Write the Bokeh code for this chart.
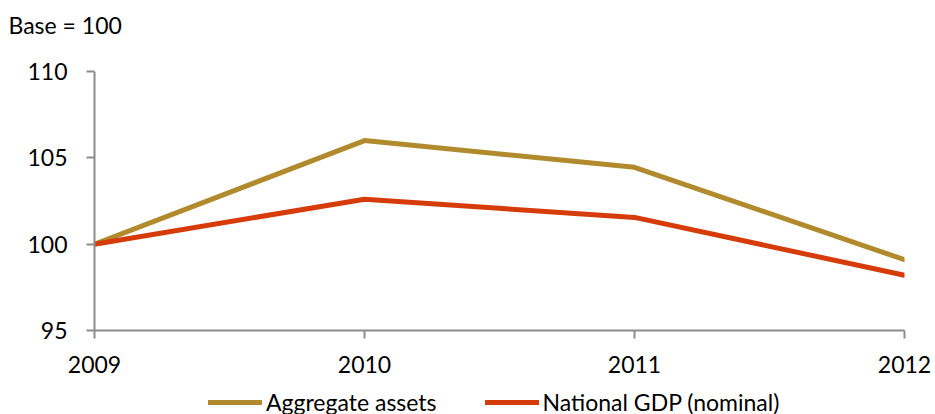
from bokeh.plotting import figure
from bokeh.models import Legend, LegendItem, FixedTicker, Range1d
from bokeh.layouts import column
from bokeh.embed import file_html
from bokeh.resources import INLINE

years = [2009, 2010, 2011, 2012]
aggregate_assets = [100.0, 106.0, 104.45, 99.1]
national_gdp = [100.0, 102.6, 101.55, 98.2]
y_ticks = [95, 100, 105, 110]
series_names = ["Aggregate assets", "National GDP (nominal)"]
series_values = [aggregate_assets, national_gdp]
series_colors = ["#B08A2C", "#D63B0A"]

FONT = "Lato"
FS = "23px"

p = figure(width=935, height=380, output_backend="svg", toolbar_location=None,
           x_range=Range1d(2009, 2012), y_range=Range1d(95, 110),
           min_border_left=94, min_border_right=31, min_border_top=71, min_border_bottom=50)
p.outline_line_color = None
p.xgrid.visible = False
p.ygrid.visible = False

p.title.text = "Base = 100"
p.title.text_font = FONT
p.title.text_font_size = FS
p.title.text_font_style = "normal"
p.title.text_color = "black"
p.title.align = "left"
p.title.offset = -86
p.title.standoff = 0
p.title.padding = (0, 0, 0, 33)

for vals, color in zip(series_values, series_colors):
    p.line(years, vals, line_color=color, line_width=5, line_cap="round", line_join="round")

for ax in (p.xaxis[0], p.yaxis[0]):
    ax.axis_line_color = "#8c8c8c"
    ax.axis_line_width = 2
    ax.major_tick_line_color = "#8c8c8c"
    ax.major_tick_line_width = 2
    ax.major_tick_out = 8
    ax.major_tick_in = 0
    ax.minor_tick_line_color = None
    ax.major_label_text_font = FONT
    ax.major_label_text_font_size = FS
    ax.major_label_text_color = "black"

p.xaxis.ticker = FixedTicker(ticks=years)
p.yaxis.ticker = FixedTicker(ticks=y_ticks)
p.xaxis.major_label_standoff = 17
p.yaxis.major_label_standoff = 19

# legend strip below the chart (its lines lie outside this strip's ranges, so only the legend shows)
p2 = figure(width=935, height=34, output_backend="svg", toolbar_location=None,
            x_range=Range1d(0, 1), y_range=Range1d(0, 1),
            x_axis_location=None, y_axis_location=None,
            min_border_left=94, min_border_right=31, min_border_top=0, min_border_bottom=0)
p2.outline_line_color = None
p2.xgrid.visible = False
p2.ygrid.visible = False
items = []
for name, vals, color in zip(series_names, series_values, series_colors):
    r = p2.line(years, vals, line_color=color, line_width=5, line_cap="round")
    items.append(LegendItem(label=name, renderers=[r]))
legend = Legend(items=items, orientation="horizontal", location=(114, -2),
                label_text_font=FONT, label_text_font_size=FS, label_text_color="black",
                glyph_width=54, glyph_height=20, label_standoff=4, spacing=48,
                padding=0, margin=0, border_line_color=None, background_fill_alpha=0)
p2.add_layout(legend, "center")

layout = column(p, p2, spacing=0)
open("out.html", "w").write(file_html(layout, INLINE))
